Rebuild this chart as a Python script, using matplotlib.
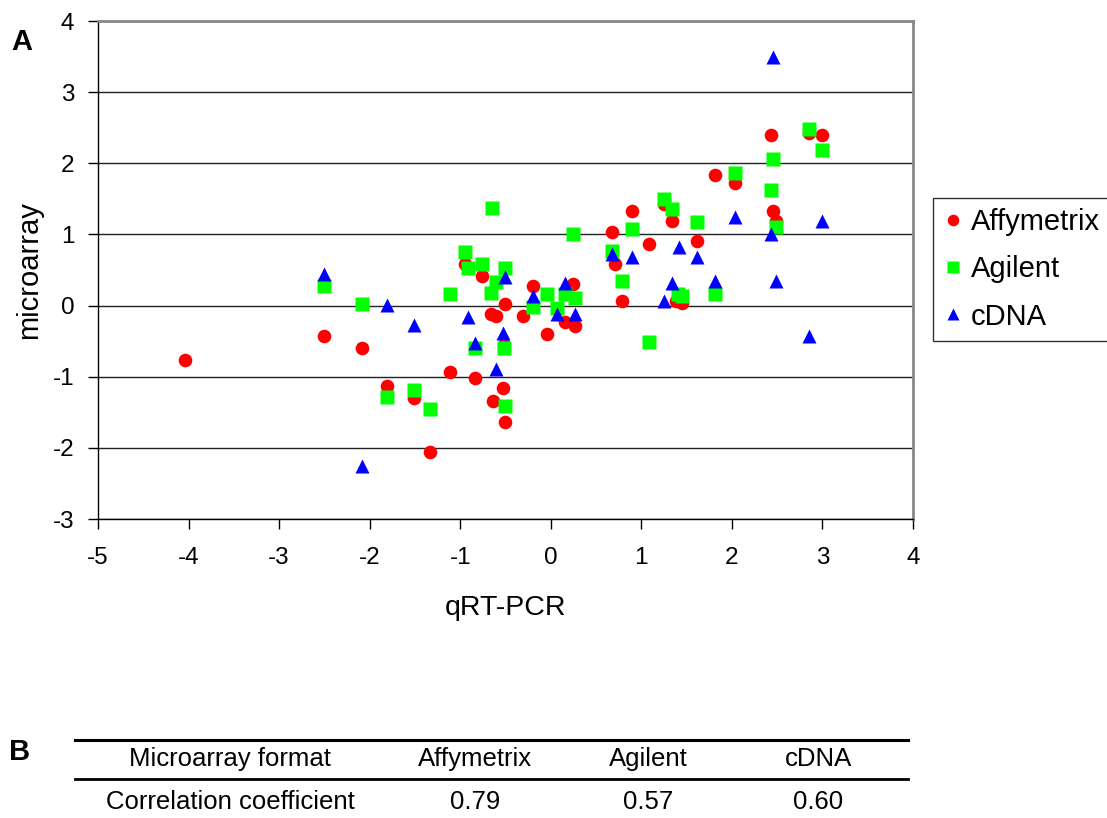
import matplotlib
matplotlib.use("Agg")
import matplotlib.pyplot as plt
from matplotlib.lines import Line2D

plt.rcParams['font.family'] = ['Liberation Sans', 'DejaVu Sans']
plt.rcParams['axes.unicode_minus'] = False

# qRT-PCR (x) vs microarray (y) log ratios
affy_x = [-4.04, -2.50, -2.08, -1.81, -1.51, -1.33, -1.11, -0.95, -0.84, -0.76,
          -0.66, -0.60, -0.64, -0.51, -0.52, -0.53, -0.51, -0.31, -0.20, -0.04,
          0.16, 0.24, 0.27, 0.68, 0.71, 0.79, 0.90, 1.09, 1.25, 1.34,
          1.38, 1.45, 1.61, 1.81, 2.03, 2.43, 2.45, 2.49, 2.85, 3.00]
affy_y = [-0.77, -0.43, -0.60, -1.13, -1.30, -2.06, -0.93, 0.59, -1.02, 0.41,
          -0.12, -0.15, -1.34, 0.02, -0.55, -1.16, -1.63, -0.15, 0.27, -0.40,
          -0.23, 0.30, -0.29, 1.03, 0.58, 0.07, 1.33, 0.87, 1.43, 1.19,
          0.06, 0.03, 0.91, 1.84, 1.72, 2.40, 1.33, 1.19, 2.42, 2.40]

agil_x = [-2.50, -2.08, -1.81, -1.51, -1.33, -1.11, -0.95, -0.91, -0.84, -0.76,
          -0.65, -0.66, -0.60, -0.51, -0.52, -0.51, -0.20, -0.04, 0.07, 0.16,
          0.27, 0.24, 0.68, 0.79, 0.90, 1.08, 1.25, 1.34, 1.40, 1.45,
          1.61, 1.81, 2.03, 2.45, 2.43, 2.49, 2.85, 3.00]
agil_y = [0.28, 0.02, -1.29, -1.18, -1.46, 0.16, 0.75, 0.53, -0.59, 0.58,
          1.37, 0.18, 0.33, 0.53, -0.60, -1.41, -0.02, 0.16, -0.03, 0.16,
          0.10, 1.00, 0.77, 0.35, 1.08, -0.51, 1.50, 1.36, 0.16, 0.13,
          1.17, 0.16, 1.86, 2.06, 1.62, 1.11, 2.48, 2.18]

cdna_x = [-2.50, -2.08, -1.81, -1.51, -0.91, -0.84, -0.60, -0.51, -0.53, -0.20,
          0.07, 0.16, 0.27, 0.68, 0.90, 1.25, 1.34, 1.42, 1.61, 1.81,
          2.03, 2.43, 2.45, 2.49, 2.85, 3.00]
cdna_y = [0.45, -2.26, 0.01, -0.27, -0.16, -0.52, -0.89, 0.40, -0.39, 0.13,
          -0.12, 0.32, -0.12, 0.72, 0.68, 0.06, 0.32, 0.82, 0.68, 0.34,
          1.24, 1.00, 3.49, 0.35, -0.43, 1.19]

# correlation table (panel B)
table_header = ['Microarray format', 'Affymetrix', 'Agilent', 'cDNA']
table_row = ['Correlation coefficient', '0.79', '0.57', '0.60']

W, H = 1107, 818
fig = plt.figure(figsize=(W / 100, H / 100), dpi=100)
ax = fig.add_axes([98 / W, 1 - 519 / H, (913 - 98) / W, (519 - 21) / H])

ax.plot(affy_x, affy_y, 'o', color='#ff0000', ms=9.8, mec='none', label='Affymetrix', zorder=3)
ax.plot(agil_x, agil_y, 's', color='#00ff00', ms=9.5, mec='none', label='Agilent', zorder=4)
ax.plot(cdna_x, cdna_y, '^', color='#0000ff', ms=10, mec='none', label='cDNA', zorder=5)

ax.set_xlim(-5, 4)
ax.set_ylim(-3, 4)
ax.set_xticks(range(-5, 5))
ax.set_yticks(range(-3, 5))
ax.yaxis.grid(True, color='#222222', lw=1)
ax.set_axisbelow(True)
ax.tick_params(direction='out', length=7, width=1, labelsize=17.5, color='black')
ax.tick_params(axis='x', pad=13)
ax.tick_params(axis='y', pad=10)

for side in ['left', 'bottom']:
    ax.spines[side].set_color('black')
    ax.spines[side].set_linewidth(1)
for side in ['top', 'right']:
    ax.spines[side].set_color('#888888')
    ax.spines[side].set_linewidth(2)

ax.set_xlabel('qRT-PCR', fontsize=20.5)
ax.xaxis.set_label_coords(0.5, -0.153)
ax.set_ylabel('microarray', fontsize=21)
ax.yaxis.set_label_coords(-0.084, 0.5)
ax.yaxis.label.set_va('center')

leg = fig.legend(loc='upper left', bbox_to_anchor=(933 / W, 1 - 198 / H),
                 fontsize=21, frameon=True, fancybox=False, edgecolor='black',
                 markerscale=0.85, handlelength=0.7, handletextpad=0.25,
                 borderpad=0.35, labelspacing=0.66, borderaxespad=0)
leg.get_frame().set_linewidth(1)

fig.text(22 / W, 1 - 42 / H, 'A', fontsize=21, fontweight='bold', ha='center', va='center')
fig.text(20 / W, 1 - 752 / H, 'B', fontsize=21, fontweight='bold', ha='center', va='center')

# panel B table
fig.add_artist(Line2D([75 / W, 908 / W], [1 - 740 / H] * 2, color='black', lw=2.2))
fig.add_artist(Line2D([75 / W, 908 / W], [1 - 779 / H] * 2, color='black', lw=2))
col_x = [230, 475, 648, 818]
for cx, head, val in zip(col_x, table_header, table_row):
    fig.text(cx / W, 1 - 759 / H, head, fontsize=18.5, ha='center', va='center')
    fig.text(cx / W, 1 - 802 / H, val, fontsize=18.5, ha='center', va='center')

fig.savefig('out.png', dpi=100)
